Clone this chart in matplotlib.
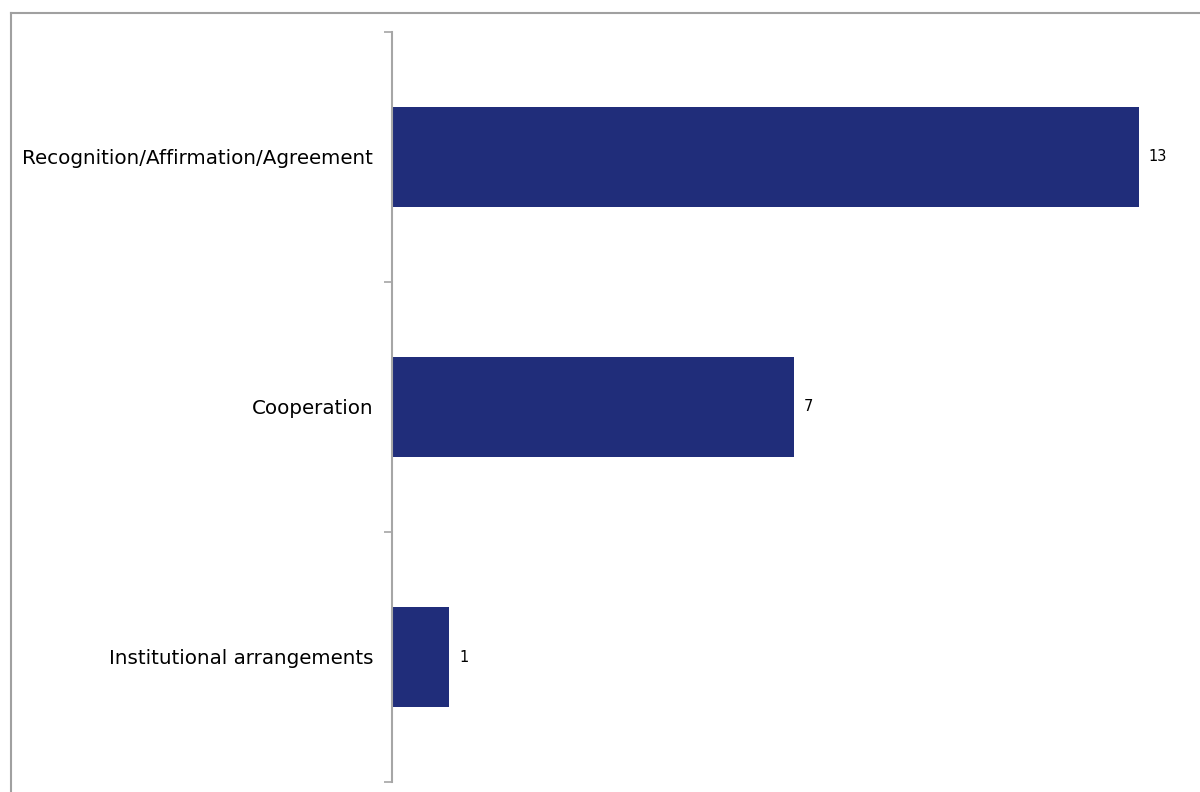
import matplotlib.pyplot as plt
from matplotlib.lines import Line2D

# datos del grafico
categorias = ["Institutional arrangements", "Cooperation", "Recognition/Affirmation/Agreement"]
valores = [1, 7, 13]

fig = plt.figure(figsize=(12, 7.92), dpi=100)
ax = fig.add_axes([392/1200, 1 - 782/792, (1196 - 392)/1200, 750/792])

ax.barh(range(len(categorias)), valores, height=0.4, color="#202d7a")
for i, v in enumerate(valores):
    ax.text(v + 0.17, i, str(v), va="center", ha="left", fontsize=10.5, color="black")

ax.set_xlim(0, 14)
ax.set_ylim(-0.5, len(categorias) - 0.5)
ax.set_xticks([])
ax.set_yticks([-0.5, 0.5, 1.5, 2.5])
ax.set_yticklabels([])
ax.set_yticks(range(len(categorias)), minor=True)
ax.set_yticklabels(categorias, minor=True, fontsize=14.3)
ax.tick_params(axis="y", which="major", length=6, color="#a6a6a6", width=1.2)
ax.tick_params(axis="y", which="minor", length=0, pad=13.5)
for lado in ["top", "right", "bottom"]:
    ax.spines[lado].set_visible(False)
ax.spines["left"].set_color("#a6a6a6")
ax.spines["left"].set_linewidth(1.5)

# marco gris del grafico
fig.add_artist(Line2D([11/1200, 11/1200], [0, 1 - 13/792], color="#a0a0a0", lw=1.5))
fig.add_artist(Line2D([11/1200, 1], [1 - 13/792, 1 - 13/792], color="#a0a0a0", lw=1.5))

fig.savefig("out.png", dpi=100)
